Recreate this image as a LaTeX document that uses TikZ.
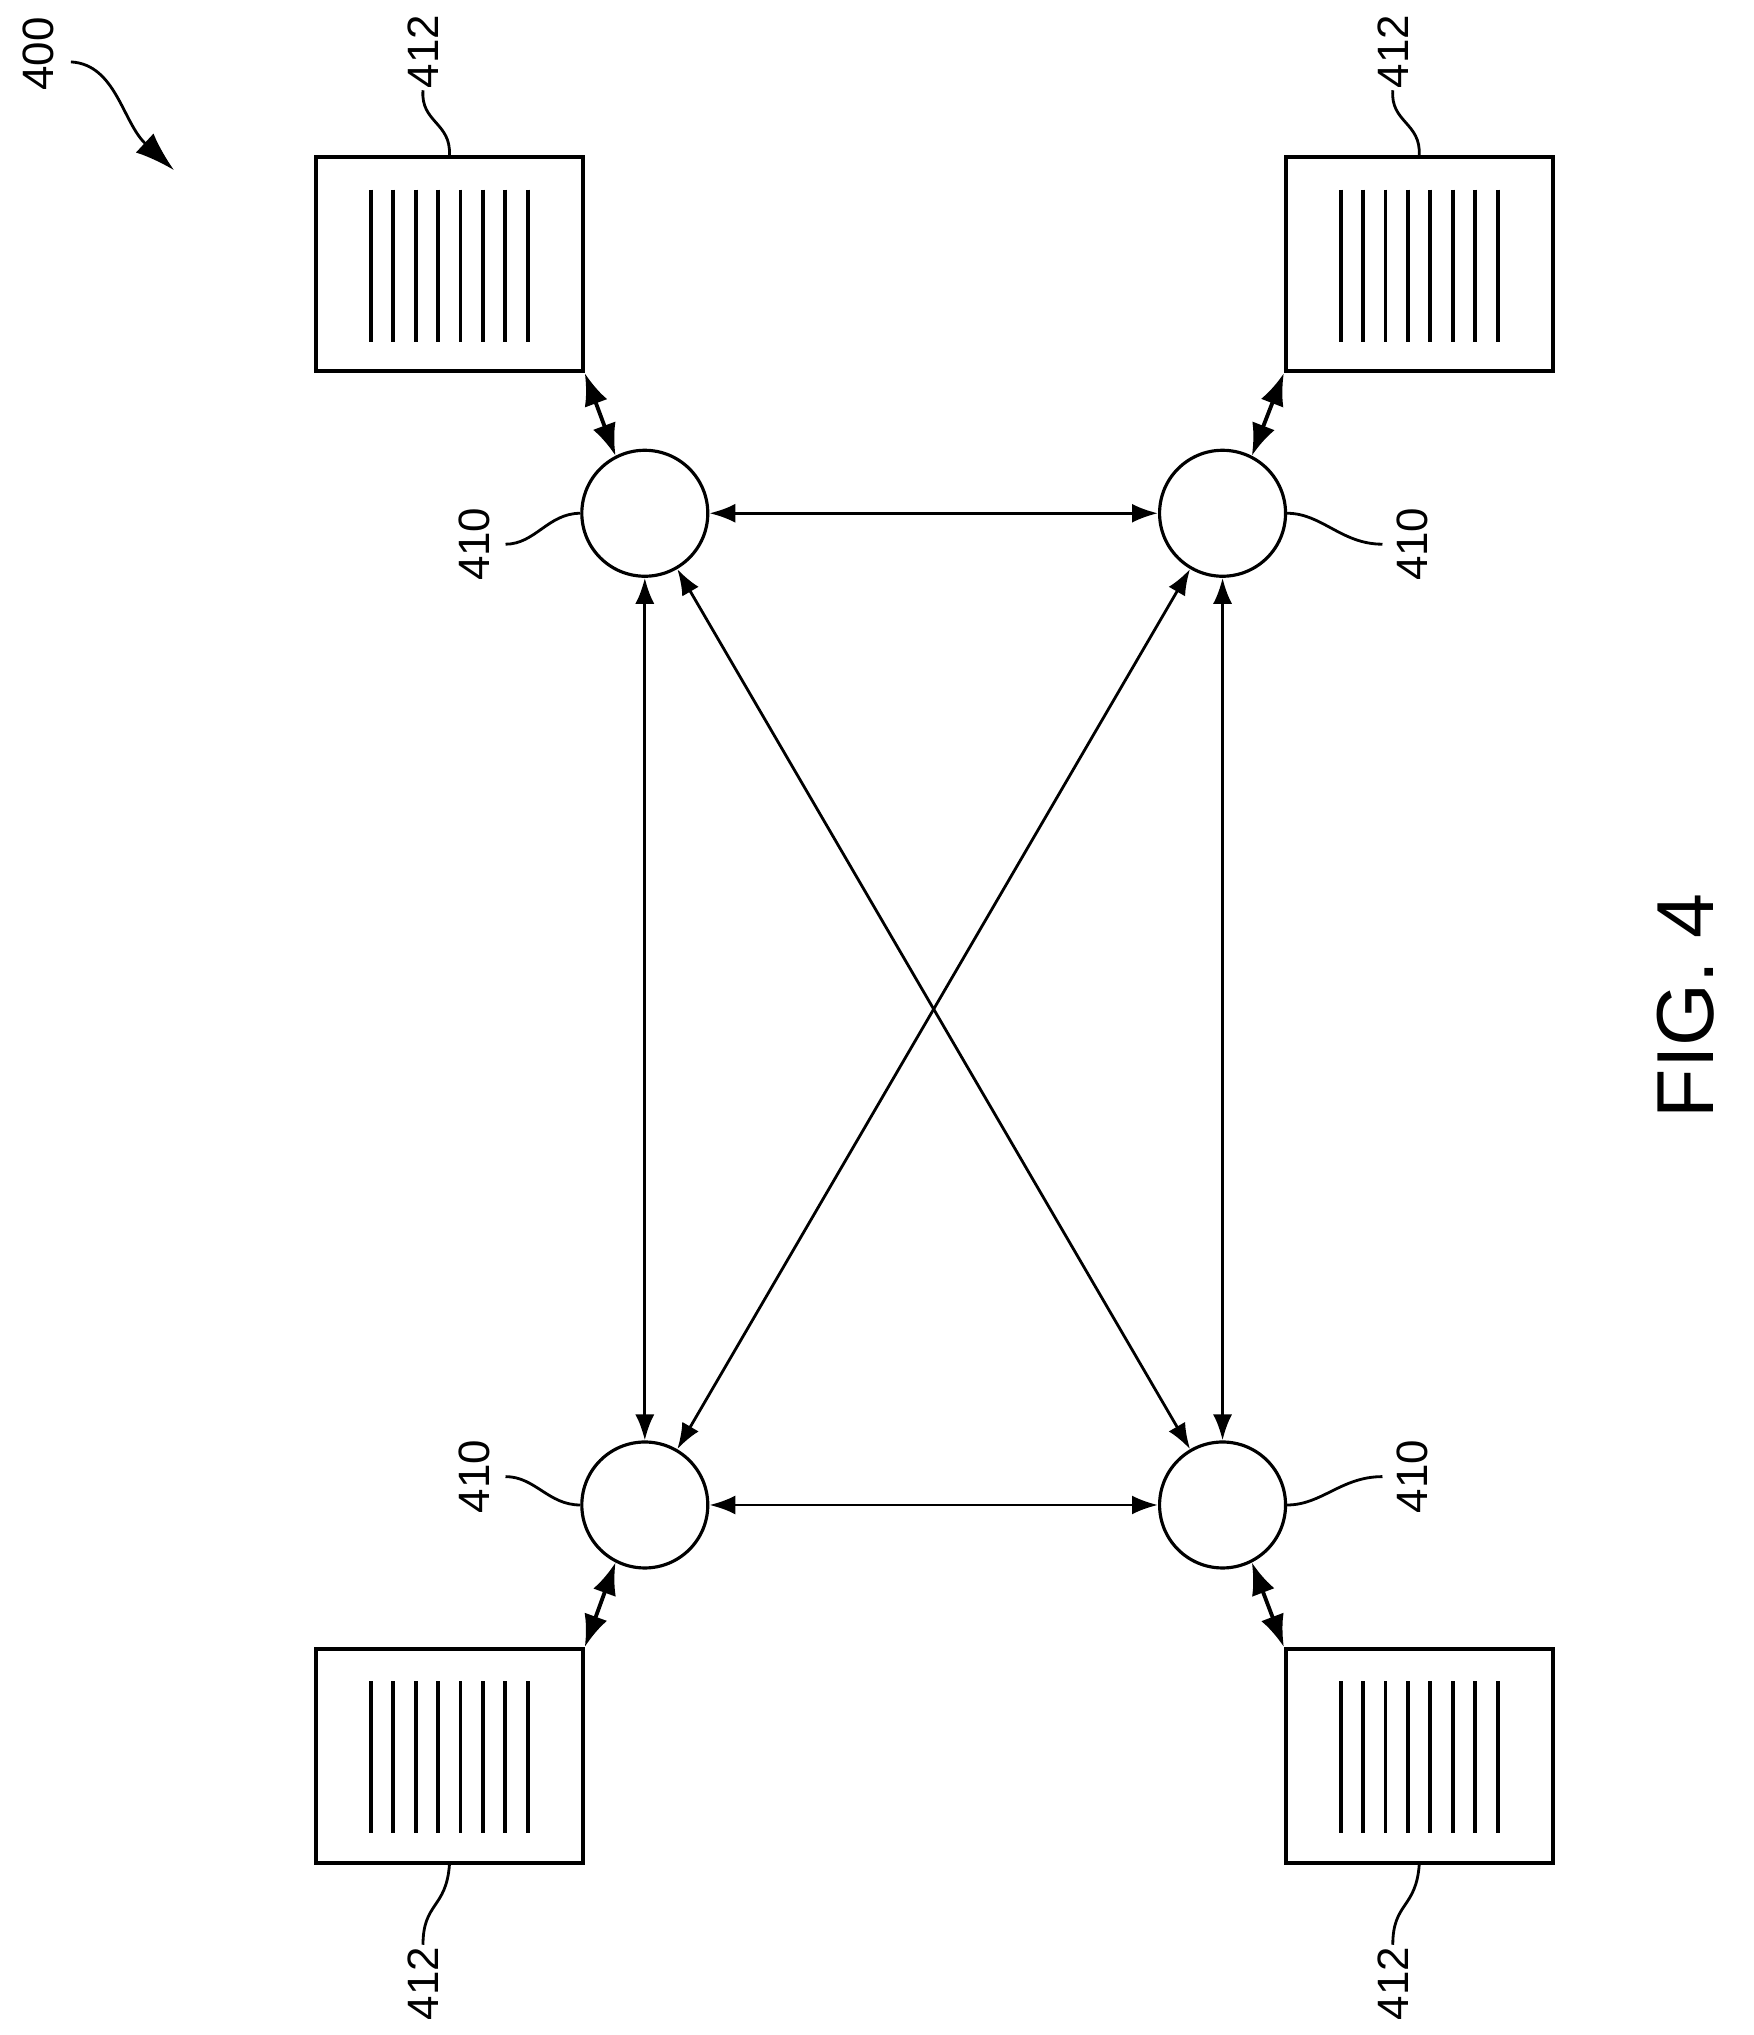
\documentclass[tikz,border=0pt]{standalone}
\usepackage{fontspec}
\setmainfont{Liberation Sans}
\usetikzlibrary{arrows.meta, calc, positioning}
\tikzset{
  conn/.style={{Latex[length=2.6mm,width=1.9mm]}-{Latex[length=2.6mm,width=1.9mm]}, line width=0.8pt, color=black},
  feed/.style={{Latex[length=3.2mm,width=2.4mm]}-{Latex[length=3.2mm,width=2.4mm]}, line width=1.1pt},
  lead/.style={line width=0.8pt},
  hub/.style={circle, draw, line width=0.9pt, minimum size=12.6mm, inner sep=0pt},
  store/.style={rectangle, draw, line width=1.1pt, minimum width=26.7mm, minimum height=21.4mm, inner sep=0pt},
  ref/.style={font=\fontsize{12.5}{12.5}\selectfont, rotate=90},
}

\begin{document}
\begin{tikzpicture}[x=0.129mm, y=-0.129mm, >=Latex]
  \useasboundingbox (0,0) rectangle (1360,1578);

  % Hubs
  \node[hub] (cTL) at (500,398) {};
  \node[hub] (cTR) at (948,398) {};
  \node[hub] (cBL) at (500,1167) {};
  \node[hub] (cBR) at (948,1167) {};

  % Storage blocks
  \node[store] (bTL) at (348.5,205) {};
  \node[store] (bTR) at (1100.5,205) {};
  \node[store] (bBL) at (348.5,1361.5) {};
  \node[store] (bBR) at (1100.5,1361.5) {};
  \foreach \b in {bTL,bTR,bBL,bBR}
    \foreach \i in {0,...,7}
      \draw[line width=1.1pt] ($(\b.center)+(-61+\i*17.4,-58)$) -- ($(\b.center)+(-61+\i*17.4,60)$);

  % Links between hubs
  \draw[conn] (cTL) -- (cTR);
  \draw[conn] (cBL) -- (cBR);
  \draw[conn] (cTL) -- (cBL);
  \draw[conn] (cTR) -- (cBR);
  \draw[conn] (cTL) -- (cBR);
  \draw[conn] (cTR) -- (cBL);

  % Block to hub
  \draw[feed] (bTL.south east) -- (cTL.117);
  \draw[feed] (bTR.south west) -- (cTR.63);
  \draw[feed] (bBL.north east) -- (cBL.-117);
  \draw[feed] (bBR.north west) -- (cBR.-63);

  % Reference numerals
  \draw[lead] (bTL.north) .. controls (350,95) and (326,95) .. (328,70);
  \node[ref] (nTL) at (328,40) {412};
  \draw[lead] (bTR.north) .. controls (1102,95) and (1078,95) .. (1080,70);
  \node[ref] (nTR) at (1080,40) {412};
  \draw[lead] (bBL.south) .. controls (346,1480) and (328,1475) .. (328,1508);
  \node[ref] (nBL) at (328,1538) {412};
  \draw[lead] (bBR.south) .. controls (1098,1480) and (1080,1475) .. (1080,1508);
  \node[ref] (nBR) at (1080,1538) {412};

  \draw[lead] (cTL.west) .. controls (425,398) and (415,422) .. (392,422);
  \node[ref] (hTL) at (368,422) {410};
  \draw[lead] (cBL.west) .. controls (425,1167) and (415,1145) .. (392,1145);
  \node[ref] (hBL) at (368,1145) {410};
  \draw[lead] (cTR.east) .. controls (1025,398) and (1040,422) .. (1072,422);
  \node[ref] (hTR) at (1095,422) {410};
  \draw[lead] (cBR.east) .. controls (1025,1167) and (1040,1145) .. (1072,1145);
  \node[ref] (hBR) at (1095,1145) {410};

  \node[ref] (fig) at (30,42) {400};
  \coordinate (figtip) at (135,132);
  \draw[lead, -{Latex[length=4mm,width=2.6mm]}] (55,48) .. controls (90,50) and (95,95) .. (figtip);

  \node[font=\fontsize{23}{23}\selectfont, rotate=90] (cap) at (1307,780) {FIG. 4};
\end{tikzpicture}
\end{document}
